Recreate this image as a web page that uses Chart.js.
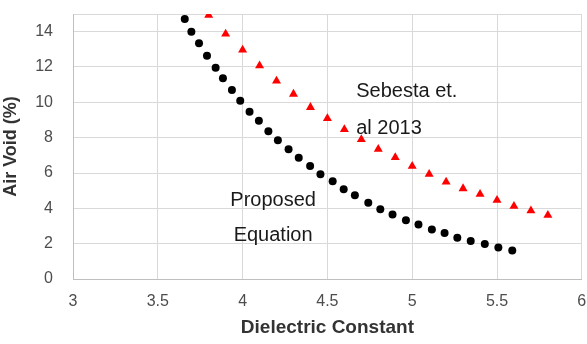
<!DOCTYPE html>
<html>
<head>
<meta charset="utf-8">
<script src="https://cdn.jsdelivr.net/npm/chart.js@4"></script>
<style>
  html, body { margin: 0; padding: 0; background: #ffffff; }
  #wrap { width: 587px; height: 344px; position: relative; }
</style>
</head>
<body>
<div id="wrap"><canvas id="c" width="587" height="344"></canvas></div>
<script>
// Proposed Equation (black dots)
const proposedX = [3.659, 3.698, 3.743, 3.790, 3.841, 3.884, 3.937, 3.986, 4.041, 4.096,
                   4.152, 4.208, 4.271, 4.331, 4.398, 4.459, 4.531, 4.596, 4.662, 4.741,
                   4.812, 4.884, 4.963, 5.037, 5.116, 5.191, 5.266, 5.345, 5.428, 5.508, 5.590];
const proposedY = [14.72, 14.00, 13.35, 12.64, 11.96, 11.36, 10.70, 10.09, 9.47, 8.96,
                   8.36, 7.86, 7.35, 6.86, 6.40, 5.93, 5.54, 5.08, 4.74, 4.31,
                   3.95, 3.65, 3.32, 3.08, 2.80, 2.60, 2.34, 2.15, 1.98, 1.78, 1.62];
// Sebesta et al. 2013 (red triangles)
const sebestaX = [3.8, 3.9, 4.0, 4.1, 4.2, 4.3, 4.4, 4.5, 4.6, 4.7, 4.8,
                  4.9, 5.0, 5.1, 5.2, 5.3, 5.4, 5.5, 5.6, 5.7, 5.8];
const sebestaY = [14.93, 13.87, 12.97, 12.08, 11.21, 10.47, 9.72, 9.09, 8.47, 7.90, 7.35,
                  6.88, 6.39, 5.93, 5.50, 5.12, 4.80, 4.46, 4.12, 3.87, 3.61];
const xTicks = [3, 3.5, 4, 4.5, 5, 5.5, 6];
const yTicks = [0, 2, 4, 6, 8, 10, 12, 14];
const xTitle = 'Dielectric Constant';
const yTitle = 'Air Void (%)';
const notes = [
  { text: 'Sebesta et.', x: 4.67, y: 10.64, align: 'left' },
  { text: 'al 2013',     x: 4.67, y: 8.54,  align: 'left' },
  { text: 'Proposed',    x: 4.18, y: 4.46,  align: 'center' },
  { text: 'Equation',    x: 4.18, y: 2.47,  align: 'center' }
];

const pts = (xs, ys) => xs.map((x, i) => ({ x: x, y: ys[i] }));

const notePlugin = {
  id: 'notes',
  afterDatasetsDraw(chart) {
    const ctx = chart.ctx, xs = chart.scales.x, ys = chart.scales.y;
    ctx.save();
    ctx.font = '20px "Liberation Sans", Arial, sans-serif';
    ctx.fillStyle = '#1a1a1a';
    ctx.textBaseline = 'middle';
    notes.forEach(n => {
      ctx.textAlign = n.align;
      ctx.fillText(n.text, xs.getPixelForValue(n.x), ys.getPixelForValue(n.y));
    });
    ctx.restore();
  }
};

new Chart(document.getElementById('c'), {
  type: 'scatter',
  data: {
    datasets: [
      { label: 'Proposed Equation', data: pts(proposedX, proposedY),
        pointStyle: 'circle', pointRadius: 4, pointHoverRadius: 4,
        backgroundColor: '#000000', borderColor: '#000000', borderWidth: 0 },
      { label: 'Sebesta et al 2013', data: pts(sebestaX, sebestaY),
        pointStyle: 'triangle', pointRadius: 5.2, pointHoverRadius: 5.2,
        backgroundColor: '#ff0000', borderColor: '#ff0000', borderWidth: 0 }
    ]
  },
  options: {
    responsive: false,
    animation: false,
    layout: { padding: { top: 14, right: 4, left: 0, bottom: 0 } },
    plugins: { legend: { display: false }, tooltip: { enabled: false } },
    scales: {
      x: {
        type: 'linear', min: 3, max: 6,
        afterBuildTicks: s => { s.ticks = xTicks.map(v => ({ value: v })); },
        afterFit: s => { s.height = 65; s.paddingLeft = 0; s.paddingRight = 0; },
        grid: { color: '#d9d9d9', drawTicks: false },
        border: { color: '#bfbfbf' },
        ticks: { padding: 13, color: '#4d4d4d',
                 callback: v => String(v),
                 font: { family: '"Liberation Sans", Arial, sans-serif', size: 16 },
                 maxRotation: 0, autoSkip: false },
        title: { display: true, text: xTitle, color: '#333333', padding: { top: 1, bottom: 5 },
                 font: { family: '"Liberation Sans", Arial, sans-serif', size: 19, weight: 'bold' } }
      },
      y: {
        type: 'linear', min: 0, max: 15,
        afterBuildTicks: s => { s.ticks = yTicks.concat([15]).map(v => ({ value: v })); },
        afterFit: s => { s.width = 73; s.paddingTop = 0; s.paddingBottom = 0; },
        grid: { color: '#d9d9d9', drawTicks: false },
        border: { color: '#bfbfbf' },
        ticks: { padding: 20, color: '#4d4d4d',
                 callback: v => (v === 15 ? '' : String(v)),
                 font: { family: '"Liberation Sans", Arial, sans-serif', size: 16 } },
        title: { display: true, text: yTitle, color: '#333333', padding: { top: 0, bottom: 0 },
                 font: { family: '"Liberation Sans", Arial, sans-serif', size: 18, weight: 'bold' } }
      }
    }
  },
  plugins: [notePlugin]
});
</script>
</body>
</html>
